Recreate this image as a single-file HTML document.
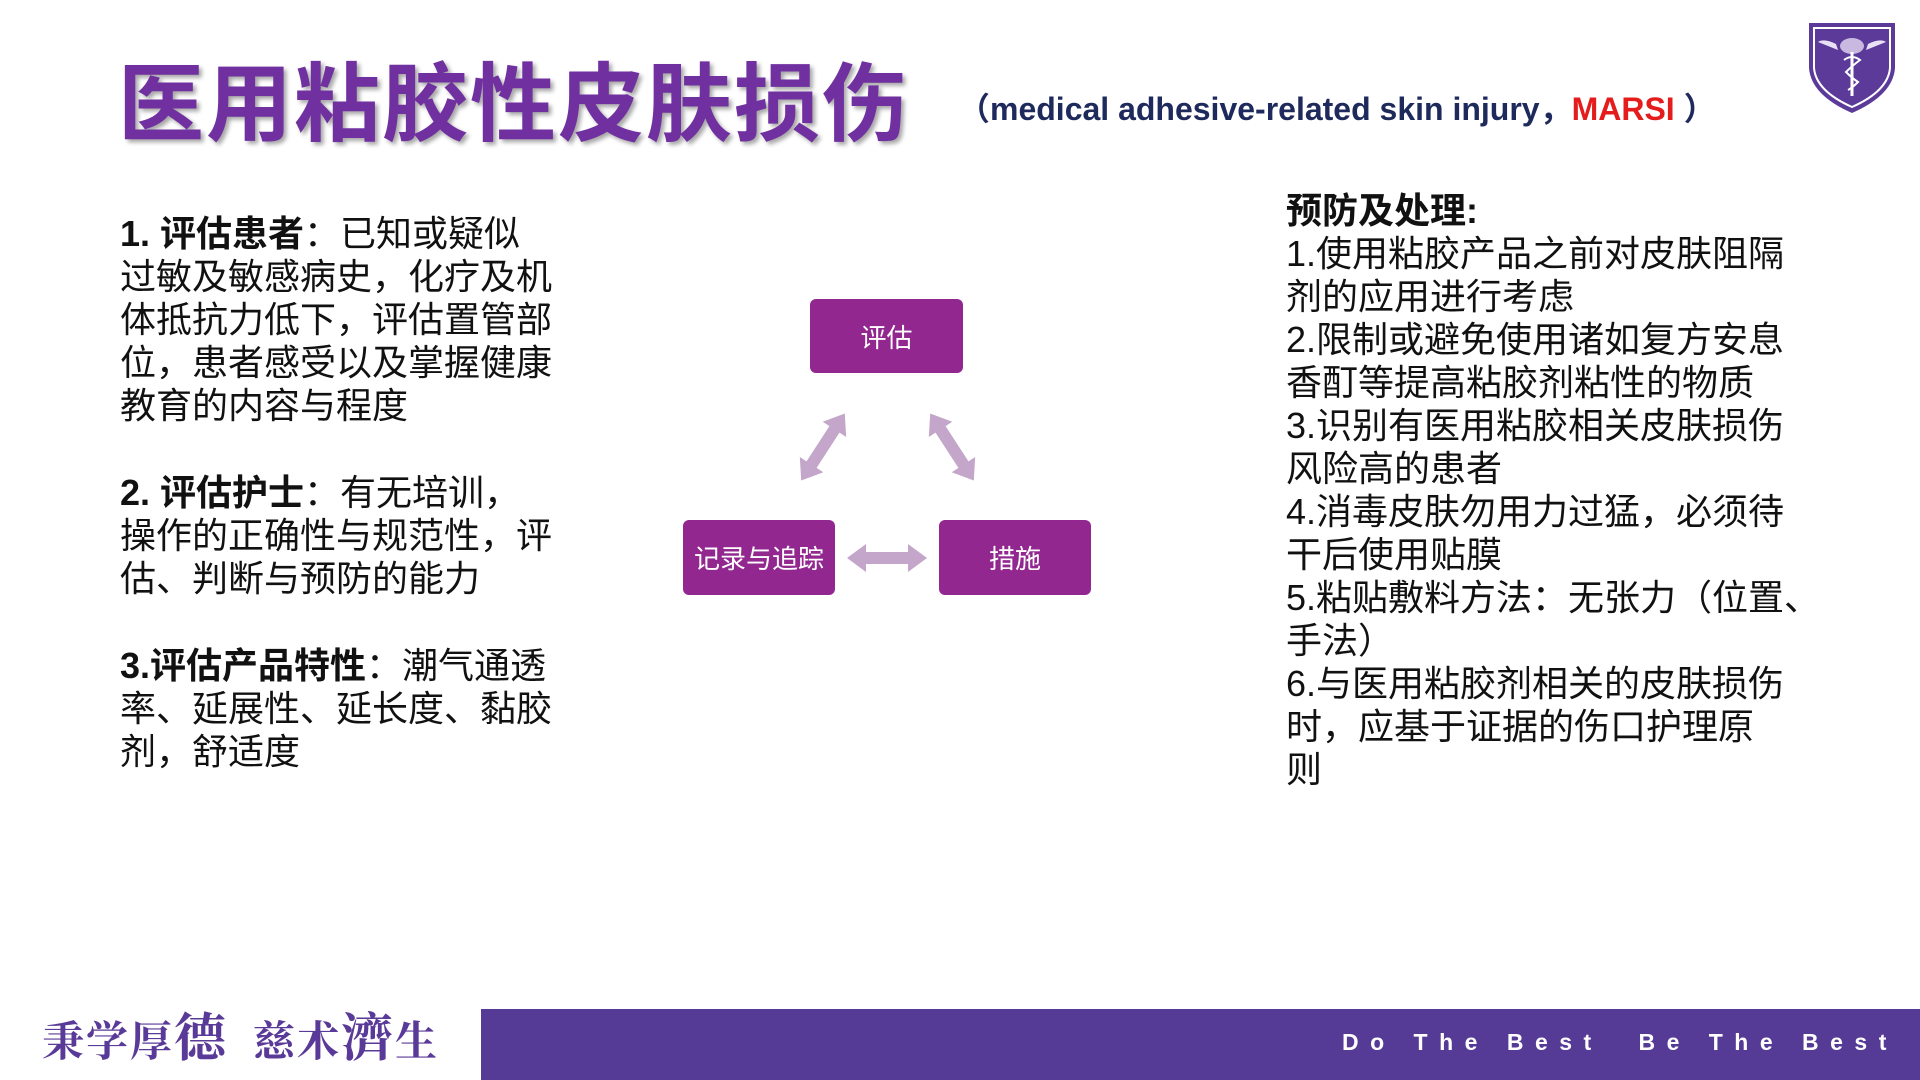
<!DOCTYPE html>
<html><head><meta charset="utf-8"><style>
*{margin:0;padding:0}
body{width:1920px;height:1080px;position:relative;background:#fff;overflow:hidden;font-family:"Liberation Sans","Noto Sans CJK SC",sans-serif;}
.t{position:absolute;white-space:nowrap}
.title{left:118px;top:50px;font-size:86px;font-weight:bold;color:#7030a0;letter-spacing:2px;text-shadow:3px 3px 4px rgba(0,0,0,.35);line-height:110px}
.sub{left:958px;top:89px;font-size:32px;font-weight:bold;color:#1f2a5c;line-height:40px}
.txt{font-size:36px;line-height:43px;color:#111}
.box{position:absolute;background:#92278f;border-radius:6px;color:#fff;font-size:26px;display:flex;align-items:center;justify-content:center}
</style></head><body>
<div class="t title">医用粘胶性皮肤损伤</div>
<div class="t sub">（medical adhesive-related skin injury，<span style="color:#e41c1c">MARSI</span> ）</div>

<svg style="position:absolute;left:1806px;top:20px" width="92" height="95" viewBox="0 0 92 95">
<path d="M3 3 L89 3 L89 48 Q87 75 46 93 Q5 75 3 48 Z" fill="#5b3a9a"/>
<path d="M8 8 L84 8 L84 48 Q82 71 46 87 Q10 71 8 48 Z" fill="none" stroke="#fff" stroke-width="2"/>
<ellipse cx="46" cy="26" rx="12" ry="8" fill="#c9b8e0"/>
<path d="M30 24 Q18 18 12 22 Q22 26 32 30 Z M62 24 Q74 18 80 22 Q70 26 60 30 Z" fill="#e8e0f4"/>
<path d="M46 32 L46 76" stroke="#fff" stroke-width="3"/>
<path d="M38 40 Q46 34 54 40 Q46 46 40 52 Q46 58 52 62 Q46 68 42 70" stroke="#fff" stroke-width="2" fill="none"/>
</svg>

<div class="t txt" style="left:120px;top:212px"><b>1. 评估患者</b>：已知或疑似<br>过敏及敏感病史，化疗及机<br>体抵抗力低下，评估置管部<br>位，患者感受以及掌握健康<br>教育的内容与程度</div>
<div class="t txt" style="left:120px;top:471px"><b>2. 评估护士</b>：有无培训，<br>操作的正确性与规范性，评<br>估、判断与预防的能力</div>
<div class="t txt" style="left:120px;top:644px"><b>3.评估产品特性</b>：潮气通透<br>率、延展性、延长度、黏胶<br>剂，舒适度</div>

<div class="t txt" style="left:1286px;top:189px"><b>预防及处理:</b><br>1.使用粘胶产品之前对皮肤阻隔<br>剂的应用进行考虑<br>2.限制或避免使用诸如复方安息<br>香酊等提高粘胶剂粘性的物质<br>3.识别有医用粘胶相关皮肤损伤<br>风险高的患者<br>4.消毒皮肤勿用力过猛，必须待<br>干后使用贴膜<br>5.粘贴敷料方法：无张力（位置、<br>手法）<br>6.与医用粘胶剂相关的皮肤损伤<br>时，应基于证据的伤口护理原<br>则</div>

<div class="box" style="left:810px;top:299px;width:153px;height:74px">评估</div>
<div class="box" style="left:683px;top:520px;width:152px;height:75px">记录与追踪</div>
<div class="box" style="left:939px;top:520px;width:152px;height:75px">措施</div>
<svg style="position:absolute;left:0;top:0" width="1920" height="1080">
<g fill="#c3a6c9">
<polygon points="847,558 866,544 866,552 908,552 908,544 927,558 908,572 908,564 866,564 866,572"/>
<g transform="translate(823,447) rotate(-57)"><polygon points="-40,0 -21,-14 -21,-6 21,-6 21,-14 40,0 21,14 21,6 -21,6 -21,14"/></g>
<g transform="translate(952,447) rotate(57)"><polygon points="-40,0 -21,-14 -21,-6 21,-6 21,-14 40,0 21,14 21,6 -21,6 -21,14"/></g>
</g></svg>

<div class="t" style="left:42px;top:1010px;font-family:'Liberation Serif','Noto Serif CJK SC',serif;font-size:42px;color:#5a3a98;font-weight:bold;line-height:60px;letter-spacing:2px">秉学厚<span style="font-size:52px">德</span>&nbsp;&nbsp;慈术<span style="font-size:52px">濟</span>生</div>
<div style="position:absolute;left:481px;top:1009px;width:1439px;height:71px;background:#553a96"></div>
<div class="t" style="left:1342px;top:1027px;font-size:23px;font-weight:bold;color:#fff;letter-spacing:11.5px;line-height:30px">Do The Best&nbsp;&nbsp;Be The Best</div>
</body></html>
